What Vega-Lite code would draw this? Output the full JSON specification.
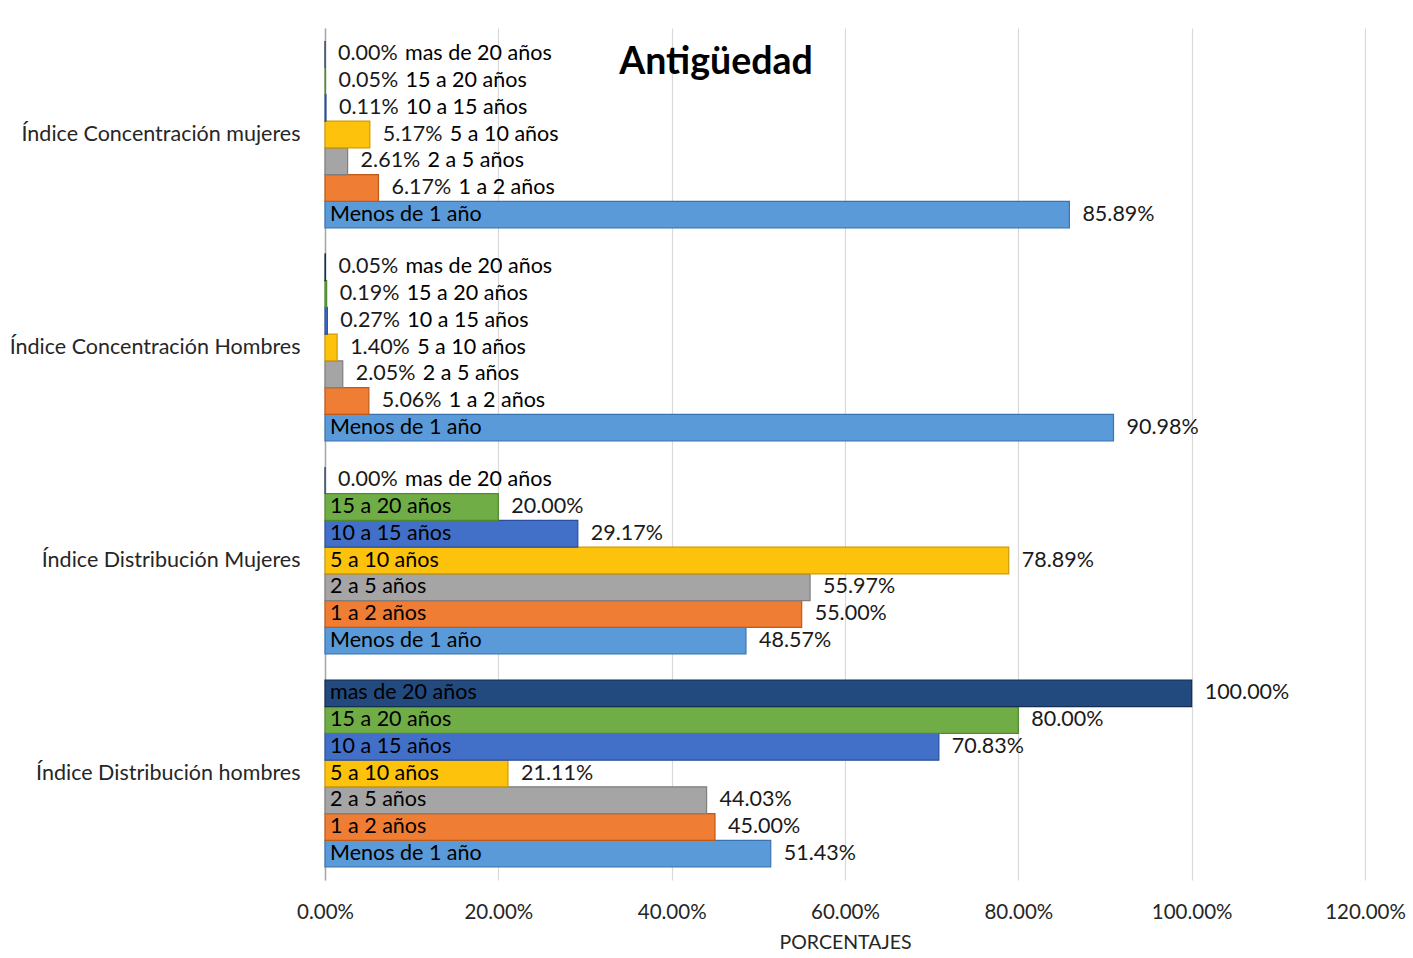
{
  "$schema": "https://vega.github.io/schema/vega-lite/v6.json",
  "width": 1040,
  "height": 852,
  "autosize": {"type": "none"},
  "padding": {"left": 325, "top": 28, "right": 48, "bottom": 78},
  "background": "white",
  "title": {
    "text": "Antigüedad",
    "font": "Lato",
    "fontSize": 37.5,
    "fontWeight": "bold",
    "color": "#000000",
    "anchor": "middle",
    "frame": "group",
    "dx": -129,
    "dy": 33,
    "offset": -50,
    "baseline": "alphabetic"
  },
  "data": {
    "values": [
      {"cat": "Índice Concentración mujeres", "series": "Menos de 1 año", "value": 0.8589},
      {"cat": "Índice Concentración mujeres", "series": "1 a 2 años", "value": 0.0617},
      {"cat": "Índice Concentración mujeres", "series": "2 a 5 años", "value": 0.0261},
      {"cat": "Índice Concentración mujeres", "series": "5 a 10 años", "value": 0.0517},
      {"cat": "Índice Concentración mujeres", "series": "10 a 15 años", "value": 0.0011},
      {"cat": "Índice Concentración mujeres", "series": "15 a 20 años", "value": 0.0005},
      {"cat": "Índice Concentración mujeres", "series": "mas de 20 años", "value": 0.0},
      {"cat": "Índice Concentración Hombres", "series": "Menos de 1 año", "value": 0.9098},
      {"cat": "Índice Concentración Hombres", "series": "1 a 2 años", "value": 0.0506},
      {"cat": "Índice Concentración Hombres", "series": "2 a 5 años", "value": 0.0205},
      {"cat": "Índice Concentración Hombres", "series": "5 a 10 años", "value": 0.014},
      {"cat": "Índice Concentración Hombres", "series": "10 a 15 años", "value": 0.0027},
      {"cat": "Índice Concentración Hombres", "series": "15 a 20 años", "value": 0.0019},
      {"cat": "Índice Concentración Hombres", "series": "mas de 20 años", "value": 0.0005},
      {"cat": "Índice Distribución Mujeres", "series": "Menos de 1 año", "value": 0.4857},
      {"cat": "Índice Distribución Mujeres", "series": "1 a 2 años", "value": 0.55},
      {"cat": "Índice Distribución Mujeres", "series": "2 a 5 años", "value": 0.5597},
      {"cat": "Índice Distribución Mujeres", "series": "5 a 10 años", "value": 0.7889},
      {"cat": "Índice Distribución Mujeres", "series": "10 a 15 años", "value": 0.2917},
      {"cat": "Índice Distribución Mujeres", "series": "15 a 20 años", "value": 0.2},
      {"cat": "Índice Distribución Mujeres", "series": "mas de 20 años", "value": 0.0},
      {"cat": "Índice Distribución hombres", "series": "Menos de 1 año", "value": 0.5143},
      {"cat": "Índice Distribución hombres", "series": "1 a 2 años", "value": 0.45},
      {"cat": "Índice Distribución hombres", "series": "2 a 5 años", "value": 0.4403},
      {"cat": "Índice Distribución hombres", "series": "5 a 10 años", "value": 0.2111},
      {"cat": "Índice Distribución hombres", "series": "10 a 15 años", "value": 0.7083},
      {"cat": "Índice Distribución hombres", "series": "15 a 20 años", "value": 0.8},
      {"cat": "Índice Distribución hombres", "series": "mas de 20 años", "value": 1.0}
    ]
  },
  "encoding": {
    "y": {
      "field": "cat",
      "type": "nominal",
      "sort": ["Índice Concentración mujeres", "Índice Concentración Hombres", "Índice Distribución Mujeres", "Índice Distribución hombres"],
      "scale": {"paddingInner": 0.122, "paddingOuter": 0.061},
      "axis": {
        "title": null,
        "ticks": false,
        "labelPadding": 25,
        "labelFont": "Lato",
        "labelFontSize": 21.5,
        "labelColor": "#262626",
        "labelLimit": 400,
        "domain": true,
        "domainColor": "#a6a6a6",
        "domainWidth": 1.5,
        "grid": false
      }
    },
    "yOffset": {
      "field": "series",
      "type": "nominal",
      "sort": ["mas de 20 años", "15 a 20 años", "10 a 15 años", "5 a 10 años", "2 a 5 años", "1 a 2 años", "Menos de 1 año"],
      "scale": {"paddingInner": 0, "paddingOuter": 0}
    }
  },
  "layer": [
    {
      "mark": {"type": "bar", "strokeWidth": 1.2},
      "encoding": {
        "x": {
          "field": "value",
          "type": "quantitative",
          "scale": {"domain": [0, 1.2], "nice": false, "zero": true},
          "axis": {
            "title": "PORCENTAJES",
            "format": ".2%",
            "values": [0, 0.2, 0.4, 0.6, 0.8, 1.0, 1.2],
            "grid": true,
            "gridColor": "#d9d9d9",
            "gridWidth": 1.2,
            "domain": false,
            "ticks": false,
            "labelFlush": false,
            "labelOverlap": false,
            "labelPadding": 22,
            "labelFont": "Lato",
            "labelFontSize": 20.5,
            "labelColor": "#262626",
            "titleFont": "Lato",
            "titleFontSize": 19.5,
            "titleFontWeight": "normal",
            "titleColor": "#262626",
            "titlePadding": 11
          }
        },
        "color": {
          "field": "series",
          "type": "nominal",
          "scale": {
            "domain": ["Menos de 1 año", "1 a 2 años", "2 a 5 años", "5 a 10 años", "10 a 15 años", "15 a 20 años", "mas de 20 años"],
            "range": ["#5a9ad8", "#ef7d33", "#a5a5a5", "#fdc20b", "#4270c8", "#70ad47", "#224a7e"]
          },
          "legend": null
        },
        "stroke": {
          "field": "series",
          "type": "nominal",
          "scale": {
            "domain": ["Menos de 1 año", "1 a 2 años", "2 a 5 años", "5 a 10 años", "10 a 15 años", "15 a 20 años", "mas de 20 años"],
            "range": ["#3a73b0", "#c05a18", "#7f7f7f", "#d09a00", "#2a4f9a", "#4f8a2c", "#142e52"]
          },
          "legend": null
        }
      }
    },
    {
      "mark": {"type": "text", "align": "left", "baseline": "middle", "dx": 13, "font": "Lato", "fontSize": 21.5, "color": "#1a1a1a"},
      "encoding": {
        "x": {"field": "value", "type": "quantitative"},
        "text": {"field": "value", "type": "quantitative", "format": ".2%"}
      }
    },
    {
      "transform": [{"filter": "datum.value >= 0.1"}],
      "mark": {"type": "text", "align": "left", "baseline": "middle", "dx": 5, "font": "Lato", "fontSize": 21.5, "color": "#000000"},
      "encoding": {
        "x": {"datum": 0, "type": "quantitative"},
        "text": {"field": "series", "type": "nominal"}
      }
    },
    {
      "transform": [{"filter": "datum.value < 0.1"}],
      "mark": {"type": "text", "align": "left", "baseline": "middle", "dx": 80, "font": "Lato", "fontSize": 21.5, "color": "#000000"},
      "encoding": {
        "x": {"field": "value", "type": "quantitative"},
        "text": {"field": "series", "type": "nominal"}
      }
    }
  ],
  "config": {
    "view": {"stroke": null}
  }
}
